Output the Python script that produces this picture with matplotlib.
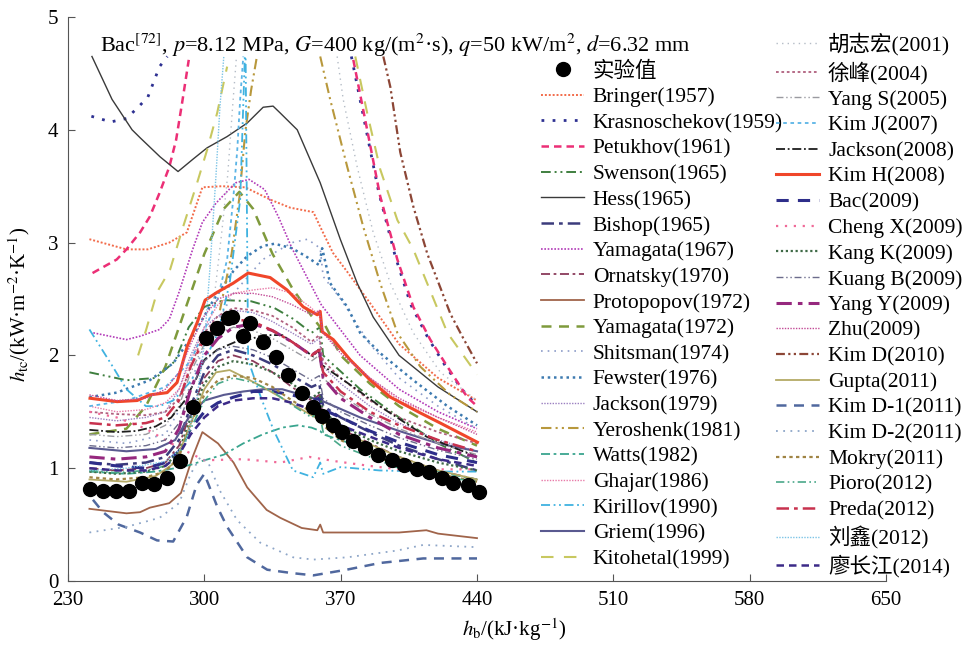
import numpy as np
import matplotlib
matplotlib.use("Agg")
import matplotlib.pyplot as plt
from matplotlib.lines import Line2D

plt.rcParams['font.family'] = ['Liberation Serif', 'Noto Sans CJK SC']
plt.rcParams['mathtext.fontset'] = 'stix'

nan = np.nan

# experimental points (Bac)
exp_x = [241.3, 248.0, 254.7, 261.3, 268.0, 274.2, 280.9, 287.6, 294.2, 300.9, 306.6, 312.2, 314.3,
         319.9, 323.5, 330.2, 336.9, 343.1, 350.2, 355.9, 360.5, 366.2, 370.8, 376.5, 382.6, 389.3,
         396.5, 402.7, 409.3, 415.5, 422.2, 427.8, 435.5, 441.2]
exp_h = [0.82, 0.80, 0.80, 0.80, 0.87, 0.86, 0.91, 1.06, 1.54, 2.15, 2.24, 2.33, 2.34, 2.17, 2.29,
         2.12, 1.99, 1.83, 1.67, 1.54, 1.46, 1.38, 1.32, 1.24, 1.18, 1.12, 1.07, 1.03, 0.99, 0.97,
         0.91, 0.87, 0.85, 0.79]

# common enthalpy grid used by many correlations
xc = [241, 255, 270, 280, 287, 293, 300, 307, 315, 325, 335, 345, 355, 359, 361, 370, 385, 400, 420, 440]

bringer_x = [241, 260, 271, 282, 291, 299, 309, 321, 334, 344, 356, 359.5, 366, 373, 384, 400, 420, 440]
bringer_y = [3.03, 2.94, 2.94, 3.0, 3.09, 3.49, 3.5, 3.49, 3.38, 3.31, 3.27, 3.14, 2.91, 2.75, 2.49, 2.1, 1.8, 1.6]
krasno_x = [242, 252, 260, 266, 271, 277, 281, nan, 375.5, 382.5, 389.5, 398, 406, 415, 424, 434, 440]
krasno_y = [4.12, 4.07, 4.1, 4.2, 4.29, 4.56, 4.65, nan, 4.65, 4.05, 3.45, 2.88, 2.45, 2.15, 1.9, 1.66, 1.56]
petukhov_x = [242.6, 255, 260, 267, 272, 277, 282, 285.5, 288.6, 292, nan,
              376.5, 383.6, 390.3, 399.1, 407.3, 416, 424.8, 435, 440]
petukhov_y = [2.73, 2.85, 2.94, 3.09, 3.23, 3.44, 3.67, 3.91, 4.24, 4.62, nan,
              4.62, 4.0, 3.41, 2.85, 2.43, 2.14, 1.9, 1.63, 1.55]
swenson_x = [241, 260, 275, 285, 292, 300, 310, 324, 336, 346, 355, 359.5, 361, 380, 400, 420, 440]
swenson_y = [1.85, 1.78, 1.8, 1.95, 2.25, 2.43, 2.49, 2.48, 2.42, 2.32, 2.2, 2.25, 2.0, 1.7, 1.45, 1.22, 1.05]
hess_x = [242.3, 252.6, 262.9, 267, 277.3, 286.5, 294.2, 301.4, 311.7, 322, 330.2, 335.3, 338.9,
          347.7, 359.5, 369.8, 378.5, 386.7, 400, 420, 440]
hess_y = [4.65, 4.27, 4.0, 3.93, 3.76, 3.63, 3.74, 3.84, 3.94, 4.06, 4.2, 4.21, 4.15,
          4.0, 3.53, 3.03, 2.64, 2.34, 2.0, 1.72, 1.5]
bishop_y = [1.05, 1.03, 1.05, 1.1, 1.25, 1.55, 1.85, 2.0, 2.05, 2.0, 1.92, 1.82, 1.72, 1.75, 1.55, 1.45, 1.32, 1.2, 1.08, 0.98]
yama67_x = [243, 260, 267, 277, 282, 287, 294, 299, 306, 316, 323, 331, 338, 345, 360, 380, 400, 420, 440]
yama67_y = [2.2, 2.14, 2.17, 2.23, 2.32, 2.56, 2.94, 3.18, 3.35, 3.53, 3.56, 3.47, 3.23, 2.95, 2.45, 2.0, 1.7, 1.5, 1.35]
ornatsky_y = [1.0, 0.98, 1.0, 1.05, 1.2, 1.5, 1.8, 1.95, 2.0, 1.95, 1.85, 1.72, 1.6, 1.65, 1.45, 1.35, 1.22, 1.1, 0.98, 0.9]
proto_x = [241, 260, 267, 272, 282, 288, 294, 299, 307, 315, 322, 332, 339, 350, 358, 359.5, 361, 380, 400, 414, 420, 440]
proto_y = [0.64, 0.6, 0.61, 0.65, 0.69, 0.78, 1.1, 1.32, 1.22, 1.05, 0.83, 0.63, 0.56, 0.47, 0.45, 0.5, 0.43, 0.43, 0.43, 0.45, 0.42, 0.38]
yama72_x = [241, 260, 270, 280, 290, 300, 310, 318, 325, 335, 345, 355, 359.5, 361, 370, 385, 400, 420, 440]
yama72_y = [1.3, 1.35, 1.55, 1.9, 2.4, 2.9, 3.3, 3.45, 3.3, 2.9, 2.6, 2.35, 2.25, 2.3, 2.0, 1.75, 1.55, 1.35, 1.2]
shitsman_x = [241, 260, 280, 290, 300, 315, 330, 345, 353, 359.5, 361, 370, 385, 400, 420, 440]
shitsman_y = [1.25, 1.22, 1.3, 1.6, 2.1, 2.55, 2.85, 3.0, 3.03, 2.95, 2.7, 2.5, 2.1, 1.8, 1.55, 1.35]
fewster_x = [241, 255, 272, 284, 295, 305, 315, 322, 330, 336, 345, 352, 359, 360.5, 364.6, 373.4, 380, 390.3, 407.3, 424.8, 440]
fewster_y = [1.63, 1.67, 1.78, 1.93, 2.2, 2.5, 2.75, 2.88, 2.97, 2.99, 2.95, 2.88, 2.8, 2.95, 2.64, 2.43, 2.2, 2.02, 1.78, 1.55, 1.38]
jackson79_y = [1.45, 1.42, 1.45, 1.5, 1.7, 2.0, 2.25, 2.35, 2.4, 2.38, 2.3, 2.2, 2.1, 2.15, 1.9, 1.75, 1.55, 1.4, 1.25, 1.15]
yeroshenk_x = [308, 314, 318, 321, 324, 327, nan, 359.5, 364.6, 373.4, 381.6, 390.3, 399.1, 410.9, 426.3, 440]
yeroshenk_y = [2.4, 2.9, 3.4, 3.98, 4.35, 4.65, nan, 4.65, 4.27, 3.67, 3.14, 2.64, 2.2, 1.9, 1.65, 1.5]
watts_x = [241, 260, 275, 285, 293, 300, 310, 320, 330, 340, 348, 355, 359.5, 361, 375, 390, 410, 425, 440]
watts_y = [0.97, 0.95, 0.97, 1.0, 1.03, 1.07, 1.12, 1.22, 1.3, 1.36, 1.38, 1.36, 1.33, 1.3, 1.22, 1.12, 1.02, 0.95, 0.9]
ghajar_y = [1.55, 1.5, 1.52, 1.58, 1.7, 1.95, 2.25, 2.45, 2.55, 2.58, 2.6, 2.55, 2.42, 2.35, 2.2, 2.05, 1.8, 1.6, 1.45, 1.32]
kirillov_x = [241, 253, 260, 270, 277, 284, 292, 300, 307, 313, 318.4, 320.8, 321.2, 322.5, 329, 335.5,
              345.5, 355.9, 359.5, 361, 370, 390, 415, 440]
kirillov_y = [2.23, 1.9, 1.7, 1.55, 1.55, 1.6, 1.75, 1.95, 2.2, 2.64, 3.38, 4.65, 4.65, 1.96, 1.63, 1.34,
              0.98, 0.92, 1.05, 0.95, 1.01, 0.98, 0.97, 0.97]
griem_x = [241, 260, 275, 285, 292, 300, 310, 320, 330, 340, 350, 360, 380, 400, 420, 440]
griem_y = [1.18, 1.15, 1.17, 1.25, 1.45, 1.6, 1.65, 1.68, 1.7, 1.7, 1.65, 1.6, 1.45, 1.33, 1.22, 1.15]
kitoh_x = [266, 270, 275.7, 282.4, 289.1, 296.3, 301.4, 306.6, 311.7, nan, 377.5, 383.6, 390.3, 399.1, 407.3, 424.8, 440]
kitoh_y = [2.0, 2.22, 2.56, 2.76, 3.14, 3.53, 3.82, 4.15, 4.56, nan, 4.65, 4.15, 3.65, 3.2, 2.94, 2.2, 1.83]

hu_x = [305, 309, 312, 314.5, 316.5, nan, 368.2, 371.3, 378.5, 386.7, 395.5, 407.3, 421.2, 440]
hu_y = [2.5, 3.1, 3.6, 4.2, 4.65, nan, 4.65, 4.27, 3.67, 3.09, 2.64, 2.2, 1.85, 1.6]
xufeng_y = [1.5, 1.48, 1.47, 1.5, 1.62, 1.9, 2.2, 2.35, 2.42, 2.4, 2.35, 2.25, 2.12, 2.18, 1.95, 1.8, 1.6, 1.45, 1.32, 1.22]
yangs_y = [1.3, 1.28, 1.3, 1.38, 1.55, 1.85, 2.1, 2.2, 2.25, 2.22, 2.15, 2.05, 1.95, 2.0, 1.8, 1.65, 1.48, 1.35, 1.22, 1.12]
kimj_x = [241, 260, 280, 293, 302, 306.6, 311.7, 314.8, 316.9, 318.4, 320]
kimj_y = [1.55, 1.6, 1.72, 1.95, 2.3, 2.49, 2.85, 3.38, 3.82, 4.27, 4.65]
jackson08_x = [241, 255, 265, 275, 283, 290, 296, 300, 306.6, 316, 323, 330, 340, 351, 356, 358.5, 360,
               369, 379, 390, 414, 440]
jackson08_y = [1.34, 1.32, 1.33, 1.37, 1.45, 1.6, 1.8, 1.96, 2.05, 2.12, 2.14, 2.18, 2.18, 2.05, 1.99, 2.05, 1.92,
               1.81, 1.69, 1.55, 1.28, 1.1]
kimh_x = [241.3, 255.2, 265.5, 272.1, 280.9, 286.0, 291.2, 296.3, 300.4, 306.6, 314.8, 322.5, 333.8, 342.5,
          350.8, 358.0, 359.5, 360.5, 366.2, 374.9, 385.2, 395.5, 410.9, 421.2, 440.2]
kimh_y = [1.62, 1.59, 1.6, 1.65, 1.67, 1.76, 2.08, 2.29, 2.49, 2.56, 2.64, 2.73, 2.69, 2.58, 2.43, 2.36, 2.39,
          2.21, 2.14, 1.96, 1.78, 1.63, 1.49, 1.4, 1.23]
bac09_y = [1.05, 1.02, 1.0, 1.05, 1.15, 1.35, 1.5, 1.58, 1.63, 1.68, 1.68, 1.65, 1.6, 1.62, 1.52, 1.45, 1.33, 1.23, 1.12, 1.05]
chengx_x = [241, 255, 270, 285, 300, 320, 339, 354, 368, 385, 400, 420, 440]
chengx_y = [1.5, 1.45, 1.35, 1.2, 1.07, 1.08, 1.05, 1.1, 1.06, 1.02, 0.99, 0.99, 0.99]
kangk_y = [0.97, 0.95, 0.97, 1.02, 1.15, 1.45, 1.75, 1.9, 1.95, 1.92, 1.85, 1.75, 1.62, 1.67, 1.5, 1.38, 1.25, 1.15, 1.05, 0.98]
kuangb_y = [1.2, 1.18, 1.2, 1.25, 1.4, 1.7, 1.95, 2.05, 2.08, 2.05, 1.98, 1.88, 1.78, 1.82, 1.62, 1.5, 1.38, 1.27, 1.16, 1.08]
yangy_y = [1.1, 1.08, 1.1, 1.15, 1.35, 1.7, 2.0, 2.15, 2.25, 2.28, 2.22, 2.12, 2.0, 2.05, 1.8, 1.62, 1.45, 1.3, 1.18, 1.1]
zhu_y = [1.65, 1.6, 1.62, 1.7, 1.85, 2.1, 2.35, 2.5, 2.55, 2.55, 2.52, 2.45, 2.36, 2.4, 2.2, 2.02, 1.8, 1.62, 1.45, 1.3]
kimd_x = [391.9, 395.5, 400.6, 407.3, 414.5, 421.2, 426.3, 433, 440]
kimd_y = [4.65, 4.38, 3.8, 3.32, 2.9, 2.6, 2.37, 2.15, 1.93]
gupta_x = [241, 260, 275, 285, 292, 300, 306, 313, 320, 330, 340, 350, 360, 380, 400, 420, 440]
gupta_y = [0.9, 0.88, 0.93, 1.05, 1.35, 1.7, 1.85, 1.87, 1.81, 1.72, 1.62, 1.52, 1.42, 1.25, 1.1, 0.98, 0.9]
kimd1_x = [242.8, 248, 256, 267, 275.7, 284, 291, 296, 300, 306.6, 311.7, 322, 332.3, 345, 356, 373, 390.3, 412.4, 440]
kimd1_y = [0.72, 0.61, 0.5, 0.43, 0.36, 0.35, 0.57, 0.85, 0.95, 0.66, 0.48, 0.21, 0.1, 0.07, 0.05, 0.1, 0.16, 0.2, 0.2]
kimd2_x = [241, 260, 277, 287, 293, 298, 302, 308, 316.8, 328.7, 345.6, 356, 373.4, 399, 412.4, 440]
kimd2_y = [0.43, 0.48, 0.56, 0.69, 0.95, 1.1, 1.05, 0.8, 0.54, 0.34, 0.21, 0.19, 0.21, 0.27, 0.32, 0.3]
mokry_y = [0.92, 0.9, 0.92, 0.97, 1.1, 1.4, 1.65, 1.78, 1.82, 1.8, 1.72, 1.6, 1.5, 1.55, 1.38, 1.25, 1.12, 1.03, 0.95, 0.88]
pioro_y = [0.98, 0.96, 0.98, 1.02, 1.12, 1.35, 1.6, 1.75, 1.8, 1.76, 1.68, 1.56, 1.45, 1.5, 1.32, 1.2, 1.1, 1.0, 0.93, 0.88]
preda_y = [1.4, 1.38, 1.4, 1.45, 1.6, 1.9, 2.15, 2.28, 2.32, 2.3, 2.22, 2.12, 2.0, 2.05, 1.85, 1.68, 1.5, 1.38, 1.25, 1.15]
liuxin_x = [241, 260, 280, 290, 296, 300, 303, 306, 308, 310]
liuxin_y = [0.98, 1.0, 1.06, 1.2, 1.6, 2.1, 2.8, 3.6, 4.2, 4.65]
liao_y = [1.0, 0.98, 0.98, 1.02, 1.12, 1.3, 1.45, 1.55, 1.6, 1.62, 1.62, 1.58, 1.52, 1.55, 1.45, 1.38, 1.28, 1.18, 1.08, 1.02]

# line styles
dd = (0, (1, 1))
ds = (0, (1, 3))
dh = (0, (5, 2, 1.5, 2))
d2 = (0, (5, 2, 1, 2, 1, 2))

curves = [
    ('Bringer(1957)', bringer_x, bringer_y, '#f26b4a', dd, 1.4),
    ('Krasnoschekov(1959)', krasno_x, krasno_y, '#2e3192', ds, 2.0),
    ('Petukhov(1961)', petukhov_x, petukhov_y, '#ec2f76', (0, (3, 2)), 1.8),
    ('Swenson(1965)', swenson_x, swenson_y, '#3f7f3f', d2, 1.4),
    ('Hess(1965)', hess_x, hess_y, '#3a3a3a', '-', 1.0),
    ('Bishop(1965)', xc, bishop_y, '#3c3c7c', dh, 1.8),
    ('Yamagata(1967)', yama67_x, yama67_y, '#b23ab8', dd, 1.2),
    ('Ornatsky(1970)', xc, ornatsky_y, '#8a3a5a', dh, 1.3),
    ('Protopopov(1972)', proto_x, proto_y, '#a0644a', '-', 1.3),
    ('Yamagata(1972)', yama72_x, yama72_y, '#7f9a3c', (0, (4, 3)), 1.8),
    ('Shitsman(1974)', shitsman_x, shitsman_y, '#8c9cc8', ds, 1.2),
    ('Fewster(1976)', fewster_x, fewster_y, '#3d7ab0', (0, (1, 1.5)), 1.8),
    ('Jackson(1979)', xc, jackson79_y, '#9a7fc0', dd, 1.0),
    ('Yeroshenk(1981)', yeroshenk_x, yeroshenk_y, '#b8983c', d2, 1.5),
    ('Watts(1982)', watts_x, watts_y, '#3aa58f', dh, 1.3),
    ('Ghajar(1986)', xc, ghajar_y, '#e87aa8', dd, 1.0),
    ('Kirillov(1990)', kirillov_x, kirillov_y, '#3fb2e0', d2, 1.3),
    ('Griem(1996)', griem_x, griem_y, '#5a5a90', '-', 1.5),
    ('Kitohetal(1999)', kitoh_x, kitoh_y, '#c8c860', (0, (6, 5)), 1.5),
    ('胡志宏(2001)', hu_x, hu_y, '#b4bcc6', ds, 1.0),
    ('徐峰(2004)', xc, xufeng_y, '#b0607e', (0, (1.5, 1.5)), 1.3),
    ('Yang S(2005)', xc, yangs_y, '#9a9aa0', d2, 1.0),
    ('Kim J(2007)', kimj_x, kimj_y, '#5ab4e6', (0, (2, 2)), 1.3),
    ('Jackson(2008)', jackson08_x, jackson08_y, '#1e1e1e', (0, (5, 1.5, 1, 1.5)), 1.3),
    ('Kim H(2008)', kimh_x, kimh_y, '#f0462a', '-', 2.2),
    ('Bac(2009)', xc, bac09_y, '#2e2e8a', (0, (4, 3)), 2.2),
    ('Cheng X(2009)', chengx_x, chengx_y, '#f06a98', ds, 1.6),
    ('Kang K(2009)', xc, kangk_y, '#3f6a46', (0, (1, 1.2)), 1.6),
    ('Kuang B(2009)', xc, kuangb_y, '#6c6c8c', d2, 1.0),
    ('Yang Y(2009)', xc, yangy_y, '#96287e', dh, 2.2),
    ('Zhu(2009)', xc, zhu_y, '#c24a96', dd, 1.0),
    ('Kim D(2010)', kimd_x, kimd_y, '#8c4636', (0, (4, 1.5, 1, 1.5, 1, 1.5)), 1.6),
    ('Gupta(2011)', gupta_x, gupta_y, '#b4aa66', '-', 1.3),
    ('Kim D-1(2011)', kimd1_x, kimd1_y, '#50689e', (0, (4, 3)), 1.8),
    ('Kim D-2(2011)', kimd2_x, kimd2_y, '#8ea6c8', ds, 1.3),
    ('Mokry(2011)', xc, mokry_y, '#a08444', (0, (1.5, 1.5)), 1.6),
    ('Pioro(2012)', xc, pioro_y, '#4aa88a', d2, 1.2),
    ('Preda(2012)', xc, preda_y, '#c8324e', dh, 1.8),
    ('刘鑫(2012)', liuxin_x, liuxin_y, '#7cc4e6', dd, 1.0),
    ('廖长江(2014)', xc, liao_y, '#3c2a88', (0, (3, 2)), 1.8),
]

fig = plt.figure(figsize=(9.63, 6.46), dpi=100)
ax = fig.add_axes([68/963, 1-581/646, 818/963, 564/646])

lines = []
for name, xs, ys, col, ls, lw in curves:
    ln, = ax.plot(xs, ys, color=col, linestyle=ls, linewidth=lw, label=name)
    lines.append(ln)

ax.plot(exp_x, exp_h, 'o', color='black', markersize=10, zorder=5)
exp_handle = Line2D([], [], marker='o', color='black', linestyle='none', markersize=10)
blank = Line2D([], [], color='none')

ax.set_xlim(230, 650)
ax.set_ylim(0, 5)
ax.set_xticks([230, 300, 370, 440, 510, 580, 650])
ax.set_yticks([0, 1, 2, 3, 4, 5])
for s in ['top', 'right']:
    ax.spines[s].set_visible(False)
ax.spines['left'].set_color('#555555')
ax.spines['bottom'].set_color('#555555')
ax.tick_params(direction='in', length=5, labelsize=15, pad=7, color='#555555')

ax.set_xlabel(r'$h_{\rm b}$/(kJ·kg$^{-1}$)', fontsize=15)
ax.xaxis.set_label_coords(0.545, -0.062)
ax.set_ylabel(r'$h_{\rm tc}$/(kW·m$^{-2}$·K$^{-1}$)', fontsize=15)
ax.yaxis.set_label_coords(-0.044, 0.49)

ax.text(0.039, 0.95, r'Bac$^{[72]}$, $p$=8.12 MPa, $G$=400 kg/(m$^2$·s), $q$=50 kW/m$^2$, $d$=6.32 mm',
        transform=ax.transAxes, fontsize=16, va='center', ha='left')

handles = [blank, exp_handle] + lines
labels = [' ', '实验值'] + [c[0] for c in curves]
fig.legend(handles, labels, ncol=2, loc='upper left', bbox_to_anchor=(541/963, 1-33/646),
           frameon=False, fontsize=15.5, handlelength=2.0, handletextpad=0.4,
           labelspacing=0.26, columnspacing=-0.3, borderpad=0, borderaxespad=0)

fig.savefig('out.png', dpi=100)
